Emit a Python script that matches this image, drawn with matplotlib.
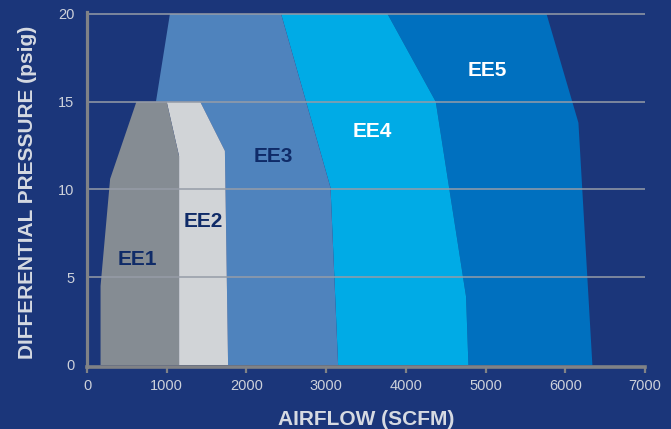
import matplotlib
matplotlib.use("Agg")
import matplotlib.pyplot as plt

# boundary lines of each dryer model (airflow SCFM, pressure psig), top -> bottom
ee1_left_flow = [620, 290, 170, 170]
ee1_left_psi = [15, 10.6, 4.5, 0]
ee1_flow = [1000, 1155, 1155]
ee1_psi = [15, 11.9, 0]
ee2_flow = [1420, 1730, 1770]
ee2_psi = [15, 12.2, 0]
ee3_left_flow = [1040, 865]
ee3_left_psi = [20, 15]
ee3_flow = [2435, 3055, 3150]
ee3_psi = [20, 10.1, 0]
ee4_flow = [3770, 4375, 4755, 4785]
ee4_psi = [20, 15, 3.9, 0]
ee5_flow = [5765, 6165, 6340]
ee5_psi = [20, 13.8, 0]

models = ['EE1', 'EE2', 'EE3', 'EE4', 'EE5']
label_flow = [630, 1455, 2335, 3585, 5020]
label_psi = [6.0, 8.2, 11.9, 13.3, 16.8]

x_ticks = [0, 1000, 2000, 3000, 4000, 5000, 6000, 7000]
y_ticks = [0, 5, 10, 15, 20]

bg = '#1b367a'
colors = {'EE1': '#858c93', 'EE2': '#d1d4d7', 'EE3': '#4f83bd',
          'EE4': '#00abe6', 'EE5': '#0070bf'}
text_colors = {'EE1': '#0f2b68', 'EE2': '#0f2b68', 'EE3': '#0f2b68',
               'EE4': 'white', 'EE5': 'white'}

plt.rcParams['font.family'] = ['Liberation Sans', 'DejaVu Sans']

fig = plt.figure(figsize=(6.71, 4.29), dpi=100, facecolor=bg)
ax = fig.add_axes([87 / 671, 62 / 429, 558 / 671, 355.3 / 429])
ax.set_facecolor(bg)


def band(left_f, left_p, right_f, right_p):
    # left edge top->bottom, then right edge bottom->top
    return left_f + right_f[::-1], left_p + right_p[::-1]


# polygons, drawn right to left so the small models sit on top
xs, ys = band(ee4_flow, ee4_psi, ee5_flow, ee5_psi)
ax.fill(xs, ys, color=colors['EE5'], lw=0, zorder=1)
xs, ys = band(ee3_flow, ee3_psi, ee4_flow, ee4_psi)
ax.fill(xs, ys, color=colors['EE4'], lw=0, zorder=1)
xs, ys = band(ee3_left_flow + ee2_flow, ee3_left_psi + ee2_psi, ee3_flow, ee3_psi)
ax.fill(xs, ys, color=colors['EE3'], lw=0, zorder=1)
xs, ys = band(ee1_flow, ee1_psi, ee2_flow, ee2_psi)
ax.fill(xs, ys, color=colors['EE2'], lw=0, zorder=2)
xs, ys = band(ee1_left_flow, ee1_left_psi, ee1_flow, ee1_psi)
ax.fill(xs, ys, color=colors['EE1'], lw=0, zorder=2)

for name, fx, py in zip(models, label_flow, label_psi):
    ax.text(fx, py, name, color=text_colors[name], fontsize=15, fontweight='bold',
            ha='center', va='center', zorder=4)

# grid lines on top of the bands
for yv in y_ticks[1:]:
    ax.axhline(yv, color='#969ca7', lw=1.1, zorder=3)

ax.set_xlim(0, 7000)
ax.set_ylim(-0.114, 20.13)
ax.set_xticks(x_ticks)
ax.set_yticks(y_ticks)

for side in ['top', 'right']:
    ax.spines[side].set_visible(False)
ax.spines['left'].set_color('#808286')
ax.spines['left'].set_linewidth(2.3)
ax.spines['bottom'].set_color('#808286')
ax.spines['bottom'].set_linewidth(2.6)
ax.spines['left'].set_zorder(5)
ax.spines['bottom'].set_zorder(5)

ax.tick_params(axis='x', colors='#808286', length=4, width=1.6, pad=5,
               labelsize=10.5, labelcolor='#cdd1da')
ax.tick_params(axis='y', length=0, pad=9, labelsize=10.5, labelcolor='#cdd1da')

ax.set_xlabel('AIRFLOW (SCFM)', fontsize=15, fontweight='bold', color='#d6dae2')
ax.set_ylabel('DIFFERENTIAL PRESSURE (psig)', fontsize=15, fontweight='bold',
              color='#d6dae2')
ax.xaxis.set_label_coords(0.5, -0.147)
ax.yaxis.set_label_coords(-0.1075, 0.4925)
ax.xaxis.label.set_va('center')
ax.yaxis.label.set_va('center')

fig.savefig('out.png', dpi=100, facecolor=bg)
